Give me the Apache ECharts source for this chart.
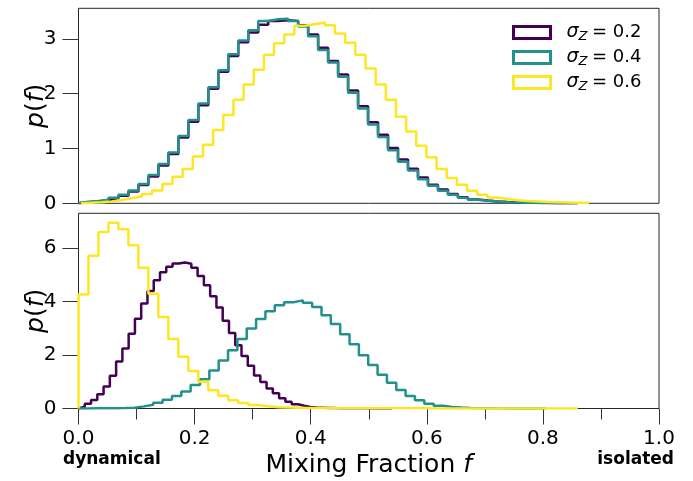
<!DOCTYPE html>
<html>
<head>
<meta charset="utf-8">
<script src="https://cdn.jsdelivr.net/npm/echarts@6/dist/echarts.min.js"></script>
<style>html,body{margin:0;padding:0;background:#fff}#chart{width:693px;height:481px}</style>
</head>
<body>
<div id="chart"></div>
<script>
// ---------- data ----------
const seriesNames = ['s02', 's04', 's06'];
const sigmaLabels = ['0.2', '0.4', '0.6'];
const xTickValues = [0, 0.2, 0.4, 0.6, 0.8, 1.0];
const topYTicks = [0, 1, 2, 3];
const bottomYTicks = [0, 2, 4, 6];

// bin edges: [first edge, bin width]
const topBins02 = [0.0, 0.0172];
const topBins04 = [0.0, 0.0172];
const topBins06 = [0.0044, 0.0175];
const botBins02 = [0.0, 0.0108];
const botBins04 = [0.0, 0.0161];
const botBins06 = [0.0, 0.0172];

// top panel densities p(f)
const topHeights02 = [0.02,0.035,0.055,0.09,0.14,0.215,0.335,0.49,0.69,0.90,1.20,1.49,1.79,2.09,2.40,2.69,2.94,3.12,3.26,3.33,3.34,3.33,3.25,3.08,2.84,2.60,2.35,2.06,1.77,1.48,1.25,1.01,0.80,0.63,0.47,0.34,0.25,0.17,0.11,0.07,0.05,0.035,0.024,0.016,0.011,0.008,0.005,0.003,0.002,0.001];
const topHeights04 = [0.03,0.04,0.063,0.10,0.154,0.233,0.353,0.517,0.716,0.927,1.23,1.52,1.82,2.12,2.43,2.72,2.97,3.16,3.33,3.36,3.37,3.33,3.23,3.05,2.80,2.57,2.31,2.02,1.73,1.44,1.21,0.97,0.76,0.60,0.44,0.32,0.23,0.154,0.10,0.063,0.045,0.033,0.02,0.015,0.01,0.007,0.005,0.003,0.002,0.001];
const topHeights06 = [0.01,0.02,0.035,0.06,0.094,0.13,0.172,0.233,0.353,0.486,0.625,0.855,1.067,1.34,1.61,1.89,2.17,2.44,2.71,2.92,3.08,3.24,3.27,3.30,3.25,3.10,2.93,2.71,2.46,2.17,1.89,1.58,1.31,1.05,0.84,0.625,0.46,0.34,0.23,0.155,0.105,0.08,0.057,0.04,0.035,0.025,0.02,0.015,0.01,0.008];

// bottom panel densities p(f)
const botHeights02 = [0.07,0.18,0.32,0.53,0.82,1.23,1.76,2.25,2.80,3.36,3.93,4.40,4.80,5.10,5.31,5.43,5.47,5.42,5.27,4.96,4.62,4.20,3.78,3.29,2.83,2.37,1.97,1.60,1.24,0.99,0.75,0.57,0.38,0.25,0.16,0.10,0.06,0.04,0.03,0.02,0.015,0.012,0.01,0.008,0.006,0.005,0.004,0.003,0.002,0.001];
const botHeights04 = [0.004,0.006,0.008,0.012,0.018,0.03,0.08,0.14,0.22,0.33,0.47,0.64,0.88,1.10,1.42,1.80,2.18,2.60,3.00,3.35,3.64,3.87,3.98,4.05,3.96,3.80,3.49,3.16,2.78,2.41,1.99,1.63,1.26,0.96,0.69,0.47,0.31,0.18,0.10,0.06,0.035,0.02,0.012,0.008,0.005,0.003,0.002,0.002,0.001,0.001];
const botHeights06 = [4.27,5.72,6.61,6.96,6.71,6.11,5.27,4.30,3.43,2.60,1.94,1.40,1.00,0.68,0.48,0.31,0.21,0.13,0.08,0.05,0.04,0.03,0.02,0.02,0.015,0.012,0.01,0.01,0.008,0.007,0.006,0.006,0.005,0.005,0.005,0.004,0.004,0.004,0.004,0.003,0.003,0.003,0.003,0.003,0.003,0.002,0.002,0.002,0.002,0.002];

// ---------- build ----------
const colors = ['#440154', '#21918c', '#fde725'];
const FONT = 'DejaVu Sans';

function stepData(bins, heights) {
  const s = bins[0], w = bins[1], n = heights.length;
  const d = [[s, 0]];
  for (let i = 0; i < n; i++) d.push([s + w * i, heights[i]]);
  d.push([s + w * n, heights[n - 1]]);
  d.push([s + w * n, 0]);
  return d;
}
function stepSeries(name, color, bins, heights, gi) {
  return {
    name: name, type: 'line', step: 'end', xAxisIndex: gi, yAxisIndex: gi,
    data: stepData(bins, heights), symbol: 'none', showSymbol: false,
    lineStyle: { color: color, width: 2.5 }, itemStyle: { color: color },
    z: 2, silent: true
  };
}

const chart = echarts.init(document.getElementById('chart'), null, { renderer: 'canvas' });
const tickStyle = { color: '#333', width: 1 };
const yName = '{i|p}{n|(}{i|f}{n|)}';
const yNameStyle = {
  fontSize: 25, fontFamily: FONT, color: '#000',
  rich: { i: { fontStyle: 'italic', fontSize: 25, fontFamily: FONT, color: '#000' },
          n: { fontSize: 25, fontFamily: FONT, color: '#000' } }
};

const option = {
  animation: false,
  backgroundColor: '#fff',
  grid: [
    { left: 78.5, top: 8.3, width: 580.5, height: 195, show: true, borderColor: '#262626', borderWidth: 1, backgroundColor: 'transparent' },
    { left: 78.5, top: 213.3, width: 580.5, height: 195.2, show: true, borderColor: '#262626', borderWidth: 1, backgroundColor: 'transparent' }
  ],
  xAxis: [
    { gridIndex: 0, type: 'value', min: 0, max: 1, axisLine: { show: false }, axisTick: { show: false },
      axisLabel: { show: false }, splitLine: { show: false } },
    { gridIndex: 1, type: 'value', min: 0, max: 1, interval: 0.2,
      axisLine: { show: false }, splitLine: { show: false },
      axisTick: { show: true, length: 16, lineStyle: tickStyle, customValues: xTickValues },
      minorTick: { show: true, splitNumber: 2, length: 11, lineStyle: tickStyle },
      axisLabel: { fontSize: 20, fontFamily: FONT, color: '#000', margin: 20, customValues: xTickValues,
                   formatter: v => v.toFixed(1) },
      name: '{a|Mixing Fraction }{b|f}', nameLocation: 'middle', nameGap: 44, nameMoveOverlap: false,
      nameTextStyle: { fontSize: 25, fontFamily: FONT, color: '#000',
        rich: { a: { fontSize: 25, fontFamily: FONT, color: '#000' },
                b: { fontSize: 25, fontFamily: FONT, fontStyle: 'italic', color: '#000' } } }
    }
  ],
  yAxis: [
    { gridIndex: 0, type: 'value', min: 0, max: 3.56,
      axisLine: { show: false }, splitLine: { show: false },
      axisTick: { show: true, length: 16, lineStyle: tickStyle, customValues: topYTicks },
      axisLabel: { fontSize: 20, fontFamily: FONT, color: '#000', margin: 22, customValues: topYTicks },
      name: yName, nameLocation: 'middle', nameRotate: 90, nameGap: 30, nameMoveOverlap: false, nameTextStyle: yNameStyle },
    { gridIndex: 1, type: 'value', min: 0, max: 7.31,
      axisLine: { show: false }, splitLine: { show: false },
      axisTick: { show: true, length: 16, lineStyle: tickStyle, customValues: bottomYTicks },
      axisLabel: { fontSize: 20, fontFamily: FONT, color: '#000', margin: 22, customValues: bottomYTicks },
      name: yName, nameLocation: 'middle', nameRotate: 90, nameGap: 30, nameMoveOverlap: false, nameTextStyle: yNameStyle }
  ],
  legend: {
    orient: 'vertical', left: 512, top: 22, padding: 0, itemGap: 4,
    itemWidth: 37, itemHeight: 12, icon: 'rect', selectedMode: false,
    data: seriesNames.map((n, i) => ({
      name: n, icon: 'rect',
      itemStyle: { color: 'rgba(0,0,0,0)', borderColor: colors[i], borderWidth: 3 }
    })),
    formatter: name => '{s|σ}{z|Z}{t|\u2009= ' + sigmaLabels[seriesNames.indexOf(name)] + '}',
    textStyle: {
      color: '#000', fontFamily: FONT, fontSize: 18,
      rich: {
        s: { fontSize: 19, fontFamily: FONT, fontStyle: 'italic', color: '#000', lineHeight: 24, padding: [0, 0, 0, 11] },
        z: { fontSize: 13, fontFamily: FONT, fontStyle: 'italic', color: '#000', lineHeight: 16, padding: [8, 1, 0, 0] },
        t: { fontSize: 18, fontFamily: FONT, color: '#000', lineHeight: 24 }
      }
    }
  },
  graphic: [
    { type: 'text', x: 63, y: 460, silent: true,
      style: { text: 'dynamical', fontSize: 17, fontWeight: 'bold', fontFamily: FONT, fill: '#000', align: 'left', verticalAlign: 'middle' } },
    { type: 'text', x: 674, y: 460, silent: true,
      style: { text: 'isolated', fontSize: 17, fontWeight: 'bold', fontFamily: FONT, fill: '#000', align: 'right', verticalAlign: 'middle' } }
  ],
  series: [
    stepSeries('s02', colors[0], topBins02, topHeights02, 0),
    stepSeries('s04', colors[1], topBins04, topHeights04, 0),
    stepSeries('s06', colors[2], topBins06, topHeights06, 0),
    stepSeries('s02', colors[0], botBins02, botHeights02, 1),
    stepSeries('s04', colors[1], botBins04, botHeights04, 1),
    stepSeries('s06', colors[2], botBins06, botHeights06, 1)
  ]
};
chart.setOption(option);
</script>
</body>
</html>
